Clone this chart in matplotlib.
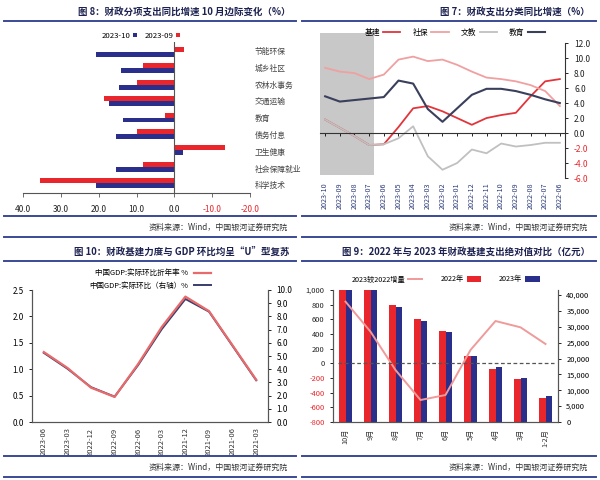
import matplotlib
matplotlib.use("Agg")
import matplotlib.pyplot as plt
import numpy as np

plt.rcParams['font.family'] = ['Noto Sans CJK SC', 'DejaVu Sans']

W, H = 600, 480

# ---------------- data ----------------
# Fig 8: item-wise expenditure growth (%)
f8_items = ["节能环保", "城乡社区", "农林水事务", "交通运输", "教育",
            "债务付息", "卫生健康", "社会保障就业", "科学技术"]
f8_sep = [-2.5, 8.2, 10.0, 18.6, 2.4, 10.0, -13.4, 8.2, 35.5]
f8_oct = [20.8, 14.1, 14.5, 17.4, 13.7, 15.4, -2.2, 15.4, 20.8]

# Fig 7: expenditure growth by category (%)
f7_dates = ["2022-06", "2022-07", "2022-08", "2022-09", "2022-10", "2022-11",
            "2022-12", "2023-01", "2023-02", "2023-03", "2023-04", "2023-05",
            "2023-06", "2023-07", "2023-08", "2023-09", "2023-10"]
f7_infra = [7.2, 6.9, 4.9, 2.7, 2.4, 2.0, 1.1, 2.0, 2.9, 3.6, 3.3, 0.8,
            -1.5, -1.6, -0.4, 0.7, 1.8]
f7_social = [3.6, 5.6, 6.4, 6.9, 7.2, 7.4, 8.2, 9.1, 9.8, 9.6, 10.2, 9.8,
             7.8, 7.2, 8.0, 8.2, 8.7]
f7_culture = [-1.3, -1.3, -1.6, -1.8, -1.4, -2.7, -2.2, -4.0, -4.9, -3.1, 0.9,
              -0.7, -1.5, -1.6, -0.4, 0.7, 1.8]
f7_edu = [4.0, 4.5, 5.1, 5.6, 5.9, 5.9, 5.1, 3.3, 1.5, 3.2, 6.6, 7.0,
          4.8, 4.6, 4.4, 4.2, 4.9]
f7_shade = ("2023-07", "2023-10")

# Fig 10: fiscal infra intensity vs GDP q/q
f10_dates = ["2021-03", "2021-06", "2021-09", "2021-12", "2022-03", "2022-06",
             "2022-09", "2022-12", "2023-03", "2023-06"]
f10_gdp_ann = [3.2, 5.8, 8.4, 9.5, 7.2, 4.4, 1.9, 2.6, 4.1, 5.3]
f10_gdp_qoq = [0.79, 1.44, 2.09, 2.33, 1.76, 1.08, 0.48, 0.66, 1.01, 1.31]

# Fig 9: infra expenditure 2022 vs 2023 (100m yuan)
f9_months = ["1-2月", "3月", "4月", "5月", "6月", "7月", "8月", "9月", "10月"]
f9_2022 = [7700, 13400, 16600, 20700, 28700, 32400, 36800, 43000, 45000]
f9_2023 = [8100, 13800, 17200, 20700, 28300, 31900, 36300, 43000, 45000]
f9_diff = [264, 491, 577, 182, -432, -500, -91, 432, 841]

# ---------------- helpers ----------------
fig = plt.figure(figsize=(6, 4.8), dpi=100)

def rect(l, t, r, b):
    return [l / W, 1 - b / H, (r - l) / W, (b - t) / H]

def ftext(x, y, s, **kw):
    fig.text(x / W, 1 - y / H, s, **kw)

def hline(x0, x1, y, color="#3b4a96", lw=1.4):
    fig.add_artist(plt.Line2D([x0 / W, x1 / W], [1 - y / H, 1 - y / H],
                              color=color, lw=lw, transform=fig.transFigure))

TITLE_C = "#1c2150"
SRC = "资料来源：Wind，中国银河证券研究院"
AX_C = "#555555"

def frame(x0, x1, ytop, title):
    ftext(x1 - 6, ytop + 12, title, ha="right", va="center", fontsize=6.8,
          fontweight="bold", color=TITLE_C)
    hline(x0, x1, ytop + 21)
    hline(x0, x1, ytop + 216)
    hline(x0, x1, ytop + 237)
    ftext(x1 - 8, ytop + 227, SRC, ha="right", va="center", fontsize=5.8,
          color="#333333")

frame(4, 296, 0, "图 8：财政分项支出同比增速 10 月边际变化（%）")
frame(302, 596, 0, "图 7：财政支出分类同比增速（%）")
frame(4, 296, 240, "图 10：财政基建力度与 GDP 环比均呈“U”型复苏")
frame(302, 596, 240, "图 9：2022 年与 2023 年财政基建支出绝对值对比（亿元）")

RED = "#e8262c"
BLUE = "#2b2f8c"

# ---------------- Fig 8 ----------------
ax8 = fig.add_axes(rect(23, 42, 250, 193))
n = len(f8_items)
y = np.arange(n)
bh = 0.3
ax8.barh(y - bh / 2, f8_sep, height=bh, color=RED, label="2023-09")
ax8.barh(y + bh / 2, f8_oct, height=bh, color=BLUE, label="2023-10")
ax8.set_ylim(n - 0.4, -0.6)
ax8.set_xlim(40, -20)
ax8.set_yticks([])
for s in ["top", "left", "right"]:
    ax8.spines[s].set_visible(False)
ax8.axvline(0, color=AX_C, lw=0.8)
ax8.spines["bottom"].set_color(AX_C)
ticks8 = [40, 30, 20, 10, 0, -10, -20]
ax8.set_xticks(ticks8)
ax8.set_xticklabels([f"{t:.1f}" for t in ticks8], fontsize=6)
for lab, t in zip(ax8.get_xticklabels(), ticks8):
    lab.set_color(RED if t < 0 else "#222222")
ax8.tick_params(axis="x", length=3, width=0.6, color=AX_C, pad=6)
for i, name in enumerate(f8_items):
    ax8.text(1.02, 1 - (i + 0.6) / (n + 0.0), name, transform=ax8.transAxes,
             fontsize=5.6, color="#444444", ha="left", va="center")
ax8.legend(handles=[ax8.containers[1], ax8.containers[0]],
           labels=["2023-10", "2023-09"], loc="lower center",
           bbox_to_anchor=(0.52, 0.97), ncol=2, frameon=False, fontsize=5.6,
           markerfirst=False, handlelength=0.5, handleheight=0.5,
           columnspacing=1.0, handletextpad=0.3)

# ---------------- Fig 7 ----------------
ax7 = fig.add_axes(rect(320, 33, 565, 178))
x7 = np.arange(len(f7_dates))
ax7.set_xlim(len(f7_dates) - 1 + 0.35, -0.35)
ax7.set_ylim(-6, 13.35)
i0, i1 = f7_dates.index(f7_shade[0]), f7_dates.index(f7_shade[1])
ax7.axvspan(i0 - 0.35, i1 + 0.35, ymin=0.02, ymax=1.0, color="#c8c8c8", lw=0)
l_infra, = ax7.plot(x7, f7_infra, color="#e2353b", lw=1.3, label="基建")
l_soc, = ax7.plot(x7, f7_social, color="#f0a0a0", lw=1.3, label="社保")
l_cul, = ax7.plot(x7, f7_culture, color="#c0c0c0", lw=1.3, label="文教")
l_edu, = ax7.plot(x7, f7_edu, color="#3a3f5c", lw=1.5, label="教育")
for s in ["top", "left"]:
    ax7.spines[s].set_visible(False)
ax7.spines["right"].set_bounds(-6, 12)
ax7.spines["right"].set_color("#333333")
ax7.spines["bottom"].set_position(("data", 0))
ax7.spines["bottom"].set_color("#333333")
ax7.spines["bottom"].set_linewidth(0.8)
ax7.yaxis.tick_right()
yt7 = np.arange(-6, 13, 2)
ax7.set_yticks(yt7)
ax7.set_yticklabels([f"{v:.1f}" for v in yt7], fontsize=6)
for lab, v in zip(ax7.get_yticklabels(), yt7):
    lab.set_color(RED if v < 0 else "#222222")
ax7.tick_params(axis="y", length=2.5, width=0.6, pad=4)
ax7.set_xticks(x7)
ax7.tick_params(axis="x", length=2, width=0.6, labelbottom=False)
sec7 = ax7.secondary_xaxis(-0.01)
sec7.set_xticks(x7)
sec7.set_xticklabels(f7_dates, rotation=90, fontsize=5.2, color="#2b3a7a")
sec7.tick_params(length=0, pad=2)
sec7.spines["bottom"].set_visible(False)
ax7.legend(handles=[l_infra, l_soc, l_cul, l_edu], loc="center",
           bbox_to_anchor=(0.55, 1.0), ncol=4, frameon=False, fontsize=5.6,
           markerfirst=False, handlelength=2.2, columnspacing=1.6,
           handletextpad=0.4)

# ---------------- Fig 10 ----------------
ax10 = fig.add_axes(rect(32, 290, 268, 422))
x10 = np.arange(len(f10_dates))
ax10.set_xlim(len(f10_dates) - 1 + 0.5, -0.5)
ax10.set_ylim(0, 2.5)
ax10r = ax10.twinx()
ax10r.set_ylim(0, 10)
l_ann, = ax10r.plot(x10, f10_gdp_ann, color="#e86a6a", lw=1.6,
                    label="中国GDP:实际环比折年率 %")
l_qoq, = ax10.plot(x10, f10_gdp_qoq, color="#3a3d6e", lw=1.4,
                   label="中国GDP:实际环比（右轴）%")
for a in (ax10, ax10r):
    a.spines["top"].set_visible(False)
    for s in ("left", "right", "bottom"):
        a.spines[s].set_color(AX_C)
ax10.set_yticks(np.arange(0, 2.51, 0.5))
ax10.set_yticklabels([f"{v:.1f}" for v in np.arange(0, 2.51, 0.5)], fontsize=5.8)
ax10r.set_yticks(np.arange(0, 10.1, 1))
ax10r.set_yticklabels([f"{v:.1f}" for v in np.arange(0, 10.1, 1)], fontsize=5.8)
ax10.tick_params(axis="y", length=2.5, width=0.6)
ax10r.tick_params(axis="y", length=2.5, width=0.6)
ax10.set_xticks(x10)
ax10.set_xticklabels(f10_dates, rotation=90, fontsize=5.4, color="#333333")
ax10.tick_params(axis="x", length=0, pad=4)
ax10.legend(handles=[l_ann, l_qoq], loc="lower center",
            bbox_to_anchor=(0.5, 0.95), ncol=1, frameon=False, fontsize=5.4,
            markerfirst=False, handlelength=2.2, labelspacing=0.6)

# ---------------- Fig 9 ----------------
ax9 = fig.add_axes(rect(333, 290, 558, 422))
x9 = np.arange(len(f9_months))
ax9.set_xlim(len(f9_months) - 1 + 0.5, -0.5)
ax9r = ax9.twinx()
bw = 0.27
b22 = ax9r.bar(x9 + bw / 2, f9_2022, width=bw, color=RED, label="2022年")
b23 = ax9r.bar(x9 - bw / 2, f9_2023, width=bw, color=BLUE, label="2023年")
ax9r.set_ylim(0, 41600)
ax9.set_ylim(-800, 1000)
ax9.axhline(0, color=AX_C, lw=0.9, ls=(0, (3, 2)), zorder=3,
            xmin=0.02, xmax=0.98)
ax9.set_zorder(ax9r.get_zorder() + 1)
ax9.patch.set_visible(False)
l_diff, = ax9.plot(x9, f9_diff, color="#f09a9a", lw=1.4,
                   label="2023较2022增量")
for a in (ax9, ax9r):
    a.spines["top"].set_visible(False)
    for s in ("left", "right", "bottom"):
        a.spines[s].set_color(AX_C)
ax9.set_yticks(np.arange(-800, 1001, 200))
ax9.set_yticklabels([f"{v:,}" for v in np.arange(-800, 1001, 200)], fontsize=5.4)
for lab, v in zip(ax9.get_yticklabels(), np.arange(-800, 1001, 200)):
    lab.set_color(RED if v < 0 else "#222222")
ax9r.set_yticks(np.arange(0, 40001, 5000))
ax9r.set_yticklabels([f"{v:,}" for v in np.arange(0, 40001, 5000)], fontsize=5.4)
ax9.tick_params(axis="y", length=2.5, width=0.6)
ax9r.tick_params(axis="y", length=2.5, width=0.6)
ax9.set_xticks(x9)
ax9.set_xticklabels(f9_months, fontsize=5.2, color="#333333", rotation=90)
ax9.tick_params(axis="x", length=0, pad=5)
ax9.legend(handles=[l_diff, b22, b23], loc="lower center",
           bbox_to_anchor=(0.5, 1.0), ncol=3, frameon=False, fontsize=5.2,
           markerfirst=False, handlelength=2.0, columnspacing=2.5,
           handletextpad=0.4)

fig.savefig("out.png", dpi=100)
